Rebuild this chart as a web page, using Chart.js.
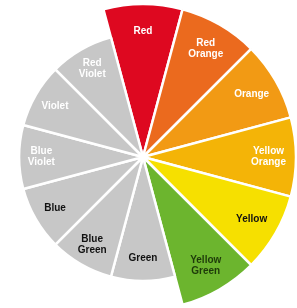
<!DOCTYPE html>
<html>
<head>
<meta charset="utf-8">
<script src="https://cdn.jsdelivr.net/npm/chart.js@4/dist/chart.umd.min.js"></script>
<style>
    html, body { margin: 0; padding: 0; background: #fff; overflow: hidden; }
    #wrap { position: relative; width: 297px; height: 308px; overflow: hidden; }
    #box { position: absolute; left: -10px; top: 4px; width: 306px; height: 306px; }
</style>
</head>
<body>
<div id="wrap"><div id="box"><canvas id="wheel"></canvas></div></div>
<script>
const names = ["Red", "Red Orange", "Orange", "Yellow Orange", "Yellow", "Yellow Green",
    "Green", "Blue Green", "Blue", "Blue Violet", "Violet", "Red Violet"];
const sizes = [10, 10, 10, 10, 10, 10, 8.1, 8.1, 8.1, 8.1, 8.1, 8.1];
const fills = ["#de0820", "#eb6a1e", "#f29a14", "#f4b407", "#f6e000", "#6cb52e",
    "#c7c7c7", "#c7c7c7", "#c7c7c7", "#c7c7c7", "#c7c7c7", "#c7c7c7"];
const textColors = ["#fff", "#fff", "#fff", "#fff", "#111", "#1e3a0a",
    "#111", "#111", "#111", "#fff", "#fff", "#fff"];

// writes each name inside its slice, two lines where there is a space
const sliceText = {
    id: "sliceText",
    afterDatasetsDraw(chart) {
        var ctx = chart.ctx;
        var meta = chart.getDatasetMeta(0);
        ctx.save();
        ctx.font = "bold 10px 'Liberation Sans', Arial, sans-serif";
        ctx.textAlign = "center";
        ctx.textBaseline = "middle";
        meta.data.forEach(function (arc, i) {
            var p = arc.getProps(["x", "y", "startAngle", "endAngle", "outerRadius"], true);
            var mid = (p.startAngle + p.endAngle) / 2;
            var r = p.outerRadius * 0.82;
            var x = p.x + Math.cos(mid) * r;
            var y = p.y + Math.sin(mid) * r;
            var lines = names[i].split(" ");
            ctx.fillStyle = textColors[i];
            lines.forEach(function (line, k) {
                ctx.fillText(line, x, y + (k - (lines.length - 1) / 2) * 11);
            });
        });
        ctx.restore();
    }
};

new Chart(document.getElementById("wheel"), {
    type: "polarArea",
    data: {
        labels: names,
        datasets: [{
            data: sizes,
            backgroundColor: fills,
            borderColor: "#ffffff",
            borderWidth: 2.5
        }]
    },
    options: {
        responsive: true,
        maintainAspectRatio: false,
        animation: false,
        layout: { padding: 0 },
        plugins: {
            legend: { display: false },
            tooltip: { enabled: false }
        },
        scales: {
            r: {
                min: 0,
                max: 10,
                startAngle: -15,
                ticks: { display: false },
                grid: { display: false },
                angleLines: { display: false },
                pointLabels: { display: false }
            }
        }
    },
    plugins: [sliceText]
});
</script>
</body>
</html>
